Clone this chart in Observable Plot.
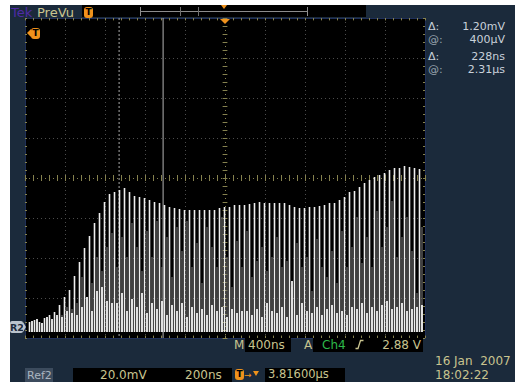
<!DOCTYPE html>
<html><head><meta charset="utf-8">
<script src="https://cdn.jsdelivr.net/npm/d3@7"></script>
<script src="https://cdn.jsdelivr.net/npm/@observablehq/plot@0.6"></script>
<style>
body{margin:0;background:#fff;}
#wrap{position:relative;width:515px;height:382px;overflow:hidden;font-family:"DejaVu Sans",sans-serif;background:#1b2a3b;}
#wrap svg{position:absolute;left:0;top:0;}
.t{position:absolute;white-space:pre;line-height:1;}
.b{position:absolute;}
</style></head>
<body><div id="wrap"></div>
<script>
// Ref2 waveform: pulse train, 200 ns/div, 20.0 mV/div
const pulsePeriodNs = 25;
const firstPulseNs = 20;
const peakMv = [2.5,3.5,2.5,4.5,6,7.5,11,15,18.5,25.5,
32.5,39.5,45.5,52,57,62.5,66.5,67.5,68.5,69.5,
67.5,65.5,65,64.5,63.5,62.5,62,61,60,59.5,
59,58.5,58.5,58.5,58.5,58.5,58.5,58.5,59.5,60,
60,61,61,61,61.5,62,62.5,62,62,62,
62,62,61,60,59.5,59.5,60,60,60.5,61,
62,62,63.5,65,67.5,68,70,72,73.5,75,
76,77,78.5,79.5,79.5,80.5,80,79.5,79];
const grayMv = [2,3,2,4,3,5,6,10,9,12,
25,15,22,35,28,40,47,30,45,35,
52,40,28,48,35,53,30,45,25,50,
38,53,30,42,22,50,40,30,55,35,
20,43,30,48,25,33,40,28,35,45,
30,33,20,42,30,35,18,44,30,25,
38,22,48,30,40,55,32,45,30,58,
40,50,63,35,45,55,38,17,50];
const floorMv = [3,4,2,5,4,6,5,8,7,6,
10,15,8,18,20,13,12,12,17,8,
14,10,17,7,12,9,13,6,11,8,
12,5,10,7,9,6,11,8,10,5,
9,7,8,8,6,9,5,12,8,7,
10,5,23,6,12,8,7,10,6,9,
11,7,8,6,10,9,12,7,10,8,
11,13,9,10,12,8,9,10,11];
const cursorNs = [468, 688];
const timeDomainNs = [0, 2000];
const voltDomainMv = [-5.5, 154.5];
const centerMv = 74.5;
const divNs = 200, divMv = 20;

const rightPanel = [["Δ:", "1.20mV", 26.5], ["@:", "400µV", 39], ["Δ:", "228ns", 56.5], ["@:", "2.31µs", 69]];

const pulses = peakMv.map((v, i) => ({t: firstPulseNs + i * pulsePeriodNs, peak: v, gray: grayMv[i], floor: floorMv[i]}));

const gridCol = "#4c4c4c", centerCol = "#86824f";
const xGrid = d3.range(divNs, 2000, divNs).filter(v => v !== 1000);
const yGrid = [-3, -2, -1, 1, 2, 3].map(k => centerMv + divMv * k);
const xMinor = d3.range(0, 2001, divNs / 5);
const yMinor = d3.range(-20, 21).map(k => centerMv + k * divMv / 5);

const chart = Plot.plot({
  width: 515, height: 382,
  marginLeft: 25, marginRight: 90, marginTop: 18, marginBottom: 44,
  x: {domain: timeDomainNs, axis: null},
  y: {domain: voltDomainMv, axis: null},
  style: {background: "transparent"},
  marks: [
    Plot.frame({fill: "black", stroke: "#1f2f58"}),
    Plot.ruleX(xGrid, {stroke: gridCol, strokeDasharray: "1 3"}),
    Plot.ruleY(yGrid, {stroke: gridCol, strokeDasharray: "1 3"}),
    Plot.ruleX([1000], {stroke: centerCol, strokeDasharray: "1 3"}),
    Plot.ruleY([centerMv], {stroke: centerCol, strokeDasharray: "1 3"}),
    Plot.ruleX(xMinor, {y1: centerMv - 1.5, y2: centerMv + 1.5, stroke: centerCol}),
    Plot.ruleY(yMinor, {x1: 1000 - 12, x2: 1000 + 12, stroke: centerCol}),
    Plot.ruleX(xMinor, {y1: voltDomainMv[1], y2: voltDomainMv[1] - 1.2, stroke: centerCol}),
    Plot.ruleX(xMinor, {y1: voltDomainMv[0], y2: voltDomainMv[0] + 1.2, stroke: centerCol}),
    Plot.ruleY(yMinor, {x1: 0, x2: 10, stroke: centerCol}),
    Plot.ruleY(yMinor, {x1: 2000, x2: 1990, stroke: centerCol}),
    Plot.ruleX([cursorNs[0]], {stroke: "#a8a8a8", strokeDasharray: "2 2"}),
    Plot.ruleX([cursorNs[1]], {stroke: "#b4b4b4"}),
    Plot.ruleX(pulses, {x: d => d.t + pulsePeriodNs / 2, y1: -2.5, y2: "gray", stroke: "#6c6c6c", strokeWidth: 1.2}),
    Plot.ruleX(pulses, {x: "t", y1: -2.5, y2: "peak", stroke: "#eeeeee", strokeWidth: 1.6}),
    Plot.ruleX(pulses, {x: d => d.t + pulsePeriodNs / 2, y1: -2.5, y2: "floor", stroke: "#f2f2f2", strokeWidth: 1.8})
  ]
});
const wrap = document.getElementById("wrap");
wrap.appendChild(chart);

function box(x, y, w, h, bg, extra) {
  const d = document.createElement("div"); d.className = "b";
  Object.assign(d.style, {left: x + "px", top: y + "px", width: w + "px", height: h + "px", background: bg}, extra || {});
  wrap.appendChild(d); return d;
}
function txt(s, x, cy, size, color, opts) {
  opts = opts || {};
  const d = document.createElement("div"); d.className = "t"; d.textContent = s;
  d.style.fontSize = size + "px"; d.style.color = color;
  d.style.top = (cy - 0.5 * size) + "px";
  if (opts.right) d.style.right = (515 - x) + "px"; else d.style.left = x + "px";
  if (opts.weight) d.style.fontWeight = opts.weight;
  wrap.appendChild(d); return d;
}
function tri(x, y, w, h, color, dir) {
  const d = document.createElement("div"); d.className = "b";
  d.style.left = x + "px"; d.style.top = y + "px"; d.style.width = 0; d.style.height = 0;
  if (dir === "down") { d.style.borderLeft = d.style.borderRight = (w / 2) + "px solid transparent"; d.style.borderTop = h + "px solid " + color; }
  if (dir === "left") { d.style.borderTop = d.style.borderBottom = (h / 2) + "px solid transparent"; d.style.borderRight = w + "px solid " + color; }
  if (dir === "right") { d.style.borderTop = d.style.borderBottom = (h / 2) + "px solid transparent"; d.style.borderLeft = w + "px solid " + color; }
  wrap.appendChild(d); return d;
}
function tIcon(x, y, pointer) {
  const orange = "#f0921c";
  if (pointer === "left") { tri(x, y + 1, 4, 9, orange, "left"); x += 4; }
  const b = box(x, y, 9, 11, orange, {borderRadius: "3px"});
  const t = document.createElement("div"); t.className = "t"; t.textContent = "T";
  Object.assign(t.style, {left: "1px", top: "1px", width: "7px", textAlign: "center", fontSize: "9px", fontWeight: "bold", color: "#000"});
  b.appendChild(t);
}

const khaki = "#c9c48f";
// white margins
box(0, 0, 515, 5, "#fff");
box(0, 0, 10, 382, "#fff");
// top bar
txt("Tek", 11, 12, 13, "#4f2ba6");
txt("PreVu", 37, 12, 13, khaki);
box(82, 5, 284, 12, "#000");
tIcon(84, 7, "none");
box(140, 11, 168, 1, "#8c8c8c");
box(140, 7, 1, 9, "#8c8c8c");
box(307, 7, 1, 9, "#8c8c8c");
box(180, 7, 1, 9, "#6e6e6e");
box(198, 7, 1, 9, "#6e6e6e");
tri(221, 5, 7, 4, "#f0921c", "down");
// plot markers
tri(220, 19, 10, 5, "#f0921c", "down");
tIcon(27, 28, "left");
const r2 = box(10, 321, 13, 12, "#b9c2cc", {borderRadius: "2px"});
tri(23, 322, 3, 10, "#b9c2cc", "right");
const r2t = document.createElement("div"); r2t.className = "t"; r2t.textContent = "R2";
Object.assign(r2t.style, {left: "0px", top: "1.5px", fontSize: "9.5px", color: "#1b2a3b", fontWeight: "bold"});
r2.appendChild(r2t);
// right panel
rightPanel.forEach(([a, v, cy]) => {
  txt(a, 428, cy, 11, a === "Δ:" ? "#c9d1da" : "#98a3ae");
  txt(v, 505, cy, 11, "#c9d1da", {right: true});
});
// bottom status line
txt("M", 234, 345, 12, khaki);
box(245, 338, 46, 14, "#000");
txt("400ns", 248, 345, 12, khaki);
txt("A", 304, 345, 12, khaki);
box(313, 338, 110, 14, "#000");
txt("Ch4", 322, 345, 12, "#2db84a");
const edge = document.createElementNS("http://www.w3.org/2000/svg", "svg");
edge.setAttribute("width", 9); edge.setAttribute("height", 11);
Object.assign(edge.style, {position: "absolute", left: "355px", top: "339px"});
edge.innerHTML = '<path d="M0.5 9.5 H3 L5.5 1.5 H8.5" fill="none" stroke="' + khaki + '" stroke-width="1.3"/>';
wrap.appendChild(edge);
txt("2.88 V", 421, 345, 12, khaki, {right: true});
// bottom row
box(25, 368, 28, 14, "#3c4b5d");
txt("Ref2", 27, 375, 11, "#aab5c0");
box(73, 368, 159, 14, "#000");
txt("20.0mV", 100, 375, 12, khaki);
txt("200ns", 185, 375, 12, khaki);
tIcon(235, 369, "none");
txt("→", 244, 375, 9, "#f0921c");
tri(253, 371, 7, 5, "#f0921c", "down");
box(265, 368, 80, 14, "#000");
txt("3.81600µs", 268, 375, 11.5, khaki);
txt("16 Jan  2007", 435, 361, 12, khaki);
txt("18:02:22", 435, 375, 12, khaki);
</script>
</body></html>
